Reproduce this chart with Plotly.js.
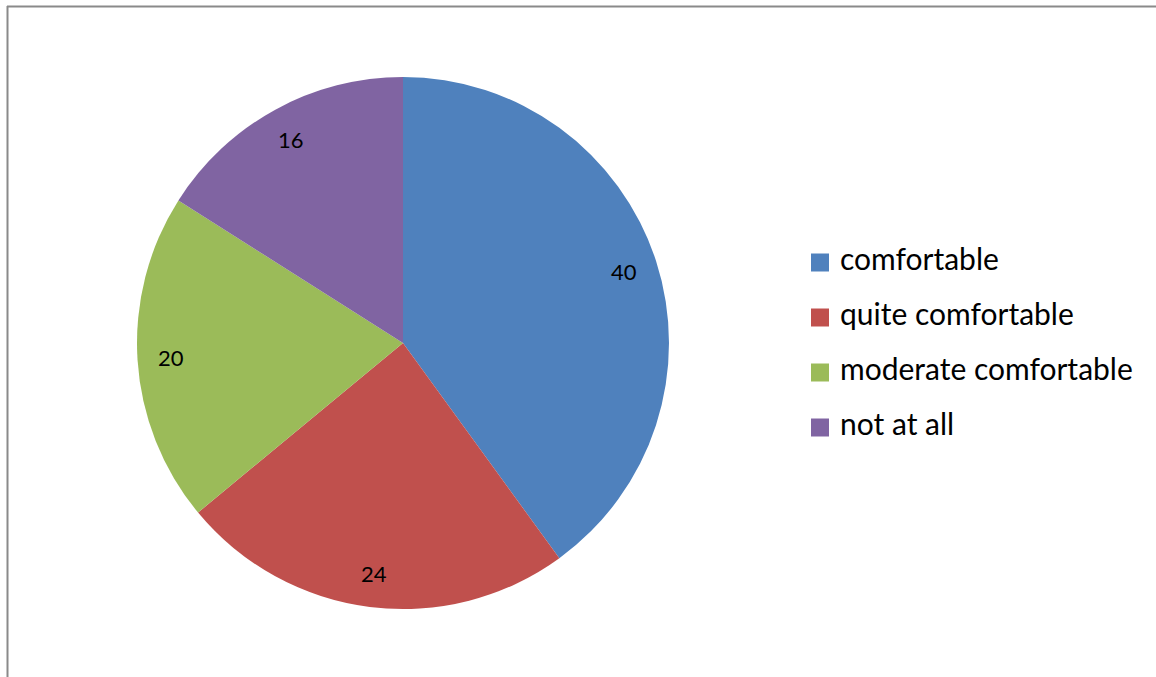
<!DOCTYPE html>
<html>
<head>
<meta charset="utf-8">
<script src="https://cdn.plot.ly/plotly-3.0.1.min.js"></script>
<style>
html, body { margin:0; padding:0; background:#fff; }
#chart { width:1156px; height:677px; }
.legend path.legendpie { transform: translate(20px, 0px) scale(1.5); }
</style>
</head>
<body>
<div id="chart"></div>
<script>
const categories = ["comfortable", "quite comfortable", "moderate comfortable", "not at all"];
const values = [40, 24, 20, 16];
const colors = ["#4F81BD", "#C0504D", "#9BBB59", "#8064A2"];

const W = 1156, H = 677;
const domX = [137/W, 669/W];
const domY = [68/H, 600/H];

const legendLabels = categories.map(c => '<span style="font-size:30px;baseline-shift:8px">' + c + '</span>');

const trace = {
  type: 'pie',
  labels: legendLabels,
  values: values,
  sort: false,
  direction: 'clockwise',
  rotation: 0,
  marker: { colors: colors, line: { width: 0 } },
  textinfo: 'none',
  hoverinfo: 'label+value',
  domain: { x: domX, y: domY }
};

// data labels placed along each slice's mid-angle, near the rim
const cxPx = (domX[0] + domX[1]) / 2 * W;
const cyPx = (domY[0] + domY[1]) / 2 * H;
const rPx = Math.min((domX[1] - domX[0]) * W, (domY[1] - domY[0]) * H) / 2;
const total = values.reduce((a, b) => a + b, 0);
let cum = 0;
const annotations = values.map(v => {
  const mid = (cum + v / 2) / total * 2 * Math.PI;
  cum += v;
  const rr = rPx * 0.875;
  return {
    xref: 'paper', yref: 'paper',
    x: (cxPx + rr * Math.sin(mid)) / W,
    y: (cyPx + rr * Math.cos(mid)) / H,
    text: String(v),
    showarrow: false,
    xanchor: 'center', yanchor: 'middle',
    font: { family: 'Lato, sans-serif', size: 22, color: '#000000' }
  };
});

const layout = {
  width: W,
  height: H,
  margin: { l: 0, r: 0, t: 0, b: 0 },
  paper_bgcolor: '#ffffff',
  plot_bgcolor: '#ffffff',
  font: { family: 'Lato, sans-serif', color: '#000000' },
  showlegend: true,
  legend: {
    x: 800/W, xanchor: 'left',
    y: 0.5 - 6.5/H, yanchor: 'middle',
    font: { family: 'Lato, sans-serif', size: 40, color: '#000000' },
    bgcolor: 'rgba(0,0,0,0)',
    traceorder: 'normal'
  },
  annotations: annotations,
  shapes: [
    { type: 'line', xref: 'paper', yref: 'paper', x0: 7/W, x1: 1, y0: 1 - 6.5/H, y1: 1 - 6.5/H, line: { color: '#8a8a8a', width: 2 } },
    { type: 'line', xref: 'paper', yref: 'paper', x0: 7.5/W, x1: 7.5/W, y0: 0, y1: 1 - 6/H, line: { color: '#8a8a8a', width: 2 } }
  ]
};

Plotly.newPlot('chart', [trace], layout, { displayModeBar: false, staticPlot: true });
</script>
</body>
</html>
